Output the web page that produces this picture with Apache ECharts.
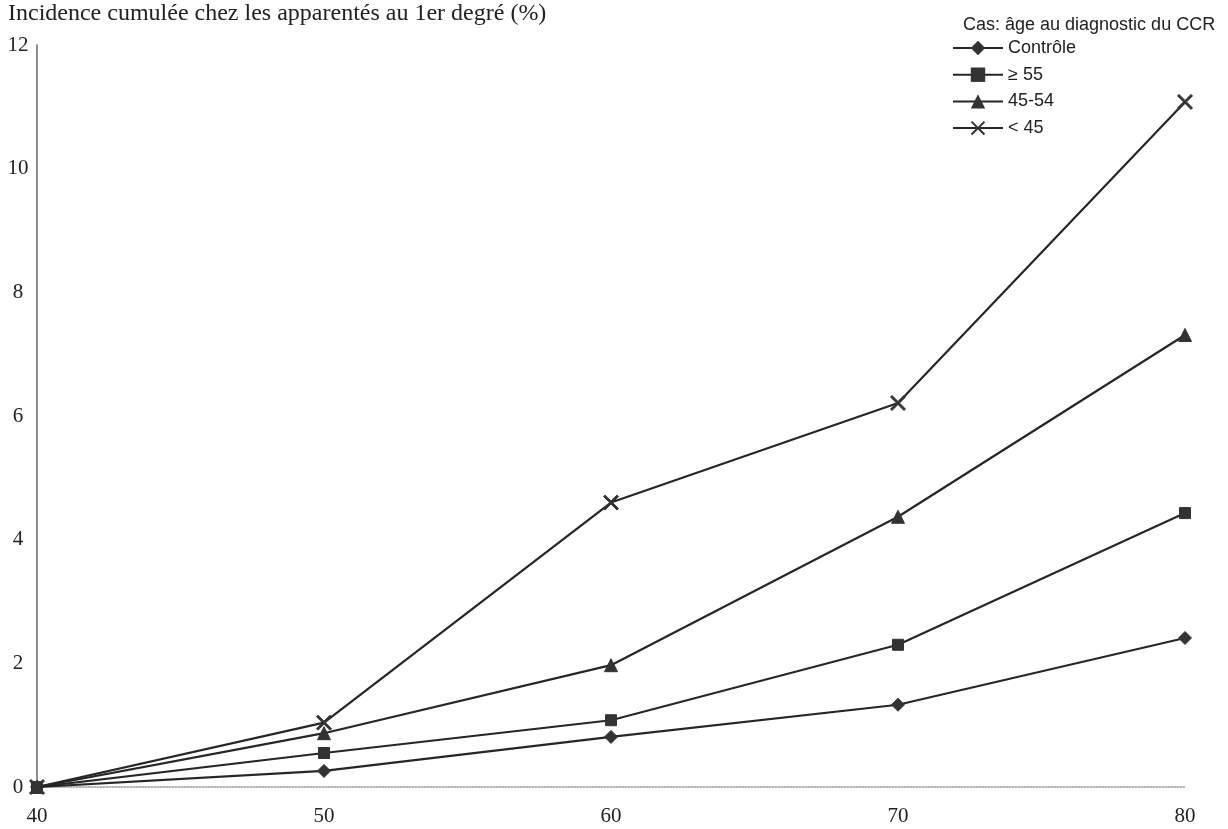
<!DOCTYPE html>
<html>
<head>
<meta charset="utf-8">
<script src="https://cdn.jsdelivr.net/npm/echarts@6/dist/echarts.min.js"></script>
<style>
html,body{margin:0;padding:0;background:#fff;}
#chart{width:1228px;height:829px;}
</style>
</head>
<body>
<div id="chart"></div>
<script>
const ages = [40, 50, 60, 70, 80];
const yTicks = [0, 2, 4, 6, 8, 10, 12];
const seriesNames = ['Contrôle', '≥ 55', '45-54', '< 45'];
const controle = [0, 0.26, 0.81, 1.33, 2.41];
const ge55 = [0, 0.55, 1.08, 2.30, 4.43];
const age4554 = [0, 0.87, 1.97, 4.37, 7.31];
const lt45 = [0, 1.04, 4.60, 6.21, 11.08];

const crossPath = 'path://M0,1L1,0L5,4L9,0L10,1L6,5L10,9L9,10L5,6L1,10L0,9L4,5Z';
const symbols = ['diamond', 'rect', 'triangle', crossPath];
const sizes = [13, 11, 13, 15];
const values = [controle, ge55, age4554, lt45];
const ink = '#262626';

const chart = echarts.init(document.getElementById('chart'));
chart.setOption({
  backgroundColor: '#ffffff',
  animation: false,
  title: [
    {
      text: 'Incidence cumulée chez les apparentés au 1er degré (%)',
      left: 3, top: -3,
      textStyle: {fontFamily: 'Liberation Serif', fontSize: 24, fontWeight: 'normal', color: '#222'}
    },
    {
      text: 'Cas: âge au diagnostic du CCR',
      left: 958, top: 11,
      textStyle: {fontFamily: 'Liberation Sans', fontSize: 18, fontWeight: 'normal', color: '#222'}
    }
  ],
  legend: {
    orient: 'vertical',
    left: 947, top: 34,
    itemWidth: 50, itemHeight: 18,
    itemGap: 8.7,
    data: seriesNames,
    textStyle: {fontFamily: 'Liberation Sans', fontSize: 18, color: '#222'}
  },
  grid: {left: 37, right: 43, top: 45, bottom: 42, containLabel: false},
  xAxis: {
    type: 'value', min: 40, max: 80, interval: 10,
    axisLine: {show: true, lineStyle: {color: '#9a9a9a', type: 'dotted', width: 1.5}},
    axisTick: {show: false},
    splitLine: {show: false},
    axisLabel: {
      margin: 19, fontFamily: 'Liberation Serif', fontSize: 21, color: '#222',
      formatter: v => ages.includes(v) ? String(v) : ''
    }
  },
  yAxis: {
    type: 'value', min: 0, max: 12, interval: 2,
    axisLine: {show: true, onZero: false, lineStyle: {color: '#666', width: 1.5}},
    axisTick: {show: false},
    splitLine: {show: false},
    axisLabel: {
      margin: 19, align: 'center', fontFamily: 'Liberation Serif', fontSize: 21, color: '#222',
      formatter: v => yTicks.includes(v) ? String(v) : ''
    }
  },
  series: seriesNames.map((name, i) => ({
    name: name,
    type: 'line',
    data: ages.map((a, j) => [a, values[i][j]]),
    symbol: symbols[i],
    symbolSize: sizes[i],
    showAllSymbol: true,
    lineStyle: {color: ink, width: 2.2},
    itemStyle: {color: '#333', borderColor: '#333'},
    z: 3 + i
  }))
});
</script>
</body>
</html>
